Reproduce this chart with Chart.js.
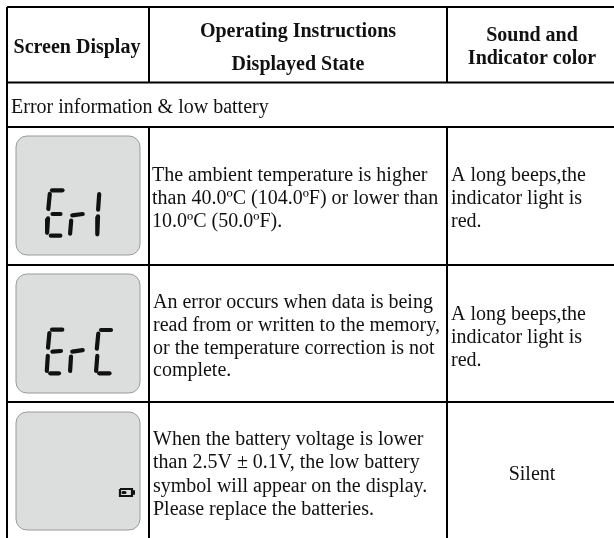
<!DOCTYPE html>
<html>
<head>
<meta charset="UTF-8">
<title>Error information &amp; low battery</title>
<script src="https://cdn.jsdelivr.net/npm/chart.js"></script>
<style>
    body { margin: 0; background: #fff; }
    #wrap { width: 614px; height: 538px; }
</style>
</head>
<body>
<div id="wrap"><canvas id="tabela" width="614" height="538"></canvas></div>

<script>
    // table rules, in picture pixels
    var colEdges = [7, 149, 447];
    var rowEdges = [7, 82.5, 127, 265, 402];
    var tableRight = 614;
    var tableBottom = 538;

    // text of the table
    var headerCol1 = ['Screen Display'];
    var headerCol2 = ['Operating Instructions', 'Displayed State'];
    var headerCol3 = ['Sound and', 'Indicator color'];
    var sectionTitle = ['Error information & low battery'];
    var row1Text = ['The ambient temperature is higher', 'than 40.0ºC (104.0ºF) or lower than', '10.0ºC (50.0ºF).'];
    var row2Text = ['An error occurs when data is being', 'read from or written to the memory,', 'or the temperature correction is not', 'complete.'];
    var row3Text = ['When the battery voltage is lower', 'than 2.5V ± 0.1V, the low battery', 'symbol will appear on the display.', 'Please replace the batteries.'];
    var beepText = ['A long beeps,the', 'indicator light is', 'red.'];
    var silentText = ['Silent'];

    // LCD panels: top and bottom of each
    var panelTops = [136, 274, 412];
    var panelBottoms = [255, 393, 530];
    var panelLeft = 16;
    var panelRight = 140;

    // LCD segments, [x1, y1, x2, y2]
    var segmentsEr1 = [
        [52, 190.3, 62.5, 190.3], [49.8, 193.8, 48.3, 209], [52.5, 214, 60.5, 214],
        [48, 218.4, 47.1, 232.8], [50.8, 235.7, 60.3, 235.7],
        [72.3, 215.3, 82.7, 214], [71.2, 220.5, 70.1, 233.7],
        [99.2, 194.2, 98.1, 209.7], [98, 216.4, 97.3, 234.3]
    ];
    var segmentsErC = [
        [52, 329.7, 62.3, 329.7], [49.4, 333, 48, 347.7], [52.4, 351.6, 61, 351],
        [47.8, 355.8, 46.8, 371], [50.2, 373.3, 59, 373.3],
        [72.3, 351.6, 82.7, 350.1], [71, 356.5, 70.1, 371],
        [101, 330, 111, 330], [98.3, 333.6, 96.8, 348.7],
        [97.3, 355.8, 96.1, 371], [99.2, 373.3, 109.5, 373.3]
    ];
    // low battery icon
    var batteryX = [120, 132, 132, 120, 120];
    var batteryY = [489, 489, 496, 496, 489];
    var batteryCell = [123, 492.5, 125, 492.5];
    var batteryNub = [134, 491, 134, 494];

    function regua(x1, y1, x2, y2) {
        return {
            data: [{ x: x1, y: y1 }, { x: x2, y: y2 }],
            showLine: true, borderColor: '#000', borderWidth: 2, pointRadius: 0
        };
    }

    function segmento(s, largura) {
        return {
            data: [{ x: s[0], y: s[1] }, { x: s[2], y: s[3] }],
            showLine: true, borderColor: '#111', borderWidth: largura,
            borderCapStyle: 'round', pointRadius: 0
        };
    }

    var datasets = [];

    // horizontal rules
    for (var i = 0; i < rowEdges.length; i++) {
        datasets.push(regua(colEdges[0], rowEdges[i], tableRight, rowEdges[i]));
    }
    // left border goes all the way, the inner ones skip the section row
    datasets.push(regua(colEdges[0], rowEdges[0], colEdges[0], tableBottom));
    for (var c = 1; c < colEdges.length; c++) {
        datasets.push(regua(colEdges[c], rowEdges[0], colEdges[c], rowEdges[1]));
        datasets.push(regua(colEdges[c], rowEdges[2], colEdges[c], tableBottom));
    }

    segmentsEr1.concat(segmentsErC).forEach(function (s) {
        datasets.push(segmento(s, 4.2));
    });

    var batteryPontos = [];
    for (var b = 0; b < batteryX.length; b++) {
        batteryPontos.push({ x: batteryX[b], y: batteryY[b] });
    }
    datasets.push({
        data: batteryPontos, showLine: true, borderColor: '#111',
        borderWidth: 2.2, pointRadius: 0
    });
    datasets.push(segmento(batteryCell, 3));
    datasets.push(segmento(batteryNub, 2));

    // grey LCD panels go under the segments
    var paineis = {
        id: 'paineis',
        beforeDatasetsDraw: function (chart) {
            var ctx = chart.ctx, sx = chart.scales.x, sy = chart.scales.y;
            ctx.save();
            ctx.fillStyle = '#dcdddd';
            ctx.strokeStyle = '#9a9a9a';
            ctx.lineWidth = 1;
            for (var p = 0; p < panelTops.length; p++) {
                var esq = sx.getPixelForValue(panelLeft);
                var topo = sy.getPixelForValue(panelTops[p]);
                ctx.beginPath();
                ctx.roundRect(esq, topo, sx.getPixelForValue(panelRight) - esq,
                    sy.getPixelForValue(panelBottoms[p]) - topo, 11);
                ctx.fill();
                ctx.stroke();
            }
            ctx.restore();
        }
    };

    function escrever(chart, linhas, x, baselines, alinhamento, fonte) {
        var ctx = chart.ctx;
        ctx.font = fonte;
        ctx.textAlign = alinhamento;
        ctx.textBaseline = 'alphabetic';
        ctx.fillStyle = '#111';
        for (var l = 0; l < linhas.length; l++) {
            ctx.fillText(linhas[l], chart.scales.x.getPixelForValue(x),
                chart.scales.y.getPixelForValue(baselines[l]));
        }
    }

    var textos = {
        id: 'textos',
        afterDatasetsDraw: function (chart) {
            var negrito = 'bold 20px "Liberation Serif"';
            var normal = '20px "Liberation Serif"';
            chart.ctx.save();
            escrever(chart, headerCol1, 77, [53], 'center', negrito);
            escrever(chart, headerCol2, 298, [37, 70], 'center', negrito);
            escrever(chart, headerCol3, 532, [41, 64], 'center', negrito);
            escrever(chart, sectionTitle, 11, [113], 'left', normal);
            escrever(chart, row1Text, 152, [181, 204, 227], 'left', normal);
            escrever(chart, row2Text, 153, [308, 331, 354, 376], 'left', normal);
            escrever(chart, row3Text, 153, [445, 468, 492, 515], 'left', normal);
            escrever(chart, beepText, 451, [181, 204, 227], 'left', normal);
            escrever(chart, beepText, 451, [320, 343, 366], 'left', normal);
            escrever(chart, silentText, 532, [480], 'center', normal);
            chart.ctx.restore();
        }
    };

    new Chart(document.getElementById('tabela'), {
        type: 'scatter',
        data: { datasets: datasets },
        options: {
            responsive: false,
            animation: false,
            layout: { padding: 0 },
            plugins: { legend: { display: false }, tooltip: { enabled: false } },
            scales: {
                x: { type: 'linear', min: 0, max: tableRight, display: false },
                y: { type: 'linear', min: 0, max: tableBottom, reverse: true, display: false }
            }
        },
        plugins: [paineis, textos]
    });
</script>
</body>
</html>
